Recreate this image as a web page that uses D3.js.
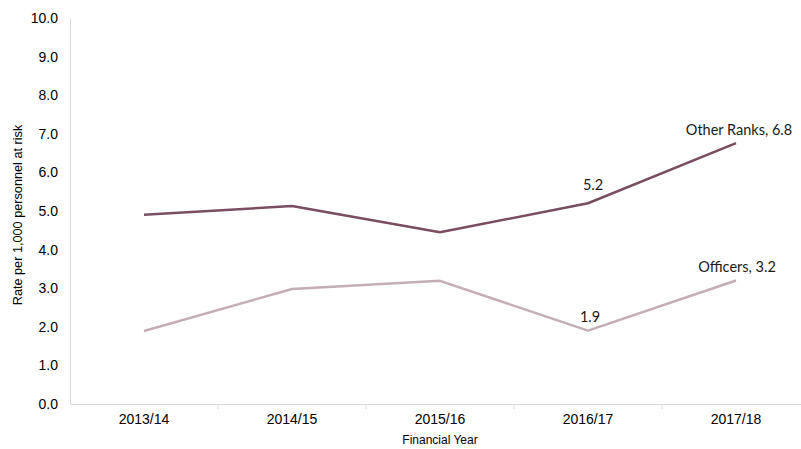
<!DOCTYPE html>
<html><head><meta charset="utf-8">
<script src="https://cdn.jsdelivr.net/npm/d3@7"></script>
<style>body{margin:0;background:#fff}svg{display:block}</style>
</head><body>
<svg id="c" width="801" height="449"></svg>
<script>
const years = ["2013/14","2014/15","2015/16","2016/17","2017/18"];
const otherRanks = [4.9, 5.13, 4.45, 5.2, 6.76];
const officers = [1.89, 2.98, 3.19, 1.9, 3.2];
const yTicks = [0,1,2,3,4,5,6,7,8,9,10];
const seriesNames = ["Other Ranks","Officers"];

const svg = d3.select("#c");
const m = {left:70, top:18};
const bandW = 148;
const x = d3.scaleBand().domain(years).range([m.left, m.left + bandW*years.length]);
const y = d3.scaleLinear().domain([0,10]).range([404, 18]);
const cx = d => x(d) + x.bandwidth()/2;

// y axis
const ya = svg.append("g").attr("transform",`translate(${m.left},0)`)
  .call(d3.axisLeft(y).tickValues(yTicks).tickFormat(d3.format(".1f")).tickSize(0).tickPadding(12));
ya.select(".domain").attr("stroke","#d9d9d9");
ya.selectAll("text").attr("font-family","Liberation Sans, Arial, sans-serif").attr("font-size",14).attr("fill","#000");

// x axis
const xa = svg.append("g").attr("transform",`translate(0,${y(0)})`)
  .call(d3.axisBottom(x).tickSize(0).tickPadding(10));
xa.select(".domain").attr("stroke","#d9d9d9");
xa.selectAll("text").attr("font-family","Liberation Sans, Arial, sans-serif").attr("font-size",14).attr("fill","#000");
// boundary ticks
svg.append("g").selectAll("line").data(years.slice(1)).join("line")
  .attr("x1",d=>x(d)).attr("x2",d=>x(d)).attr("y1",y(0)).attr("y2",y(0)+5)
  .attr("stroke","#d9d9d9");

// axis titles
svg.append("text").attr("x",440).attr("y",444).attr("text-anchor","middle")
  .attr("font-family","Liberation Sans, Arial, sans-serif").attr("font-size",12).attr("fill","#000")
  .text("Financial Year");
svg.append("text").attr("transform","translate(22,215) rotate(-90)").attr("text-anchor","middle")
  .attr("font-family","Liberation Sans, Arial, sans-serif").attr("font-size",12.7).attr("fill","#000")
  .text("Rate per 1,000 personnel at risk");

const line = d3.line().x((d,i)=>cx(years[i])).y(d=>y(d));
svg.append("path").datum(officers).attr("d",line).attr("fill","none")
  .attr("stroke","#c4adb4").attr("stroke-width",2.5).attr("stroke-linejoin","round");
svg.append("path").datum(otherRanks).attr("d",line).attr("fill","none")
  .attr("stroke","#7a4e61").attr("stroke-width",2.5).attr("stroke-linejoin","round");

const lab = (txt, xx, yy) => svg.append("text").attr("x",xx).attr("y",yy).attr("text-anchor","middle")
  .attr("font-family","Lato, Open Sans, sans-serif").attr("font-size",14.5).attr("fill","#1a1a1a").text(txt);
lab(`${seriesNames[0]}, ${otherRanks[4].toFixed(1)}`, cx(years[4])+3, y(otherRanks[4])-8);
lab(otherRanks[3].toFixed(1), cx(years[3])+5, y(otherRanks[3])-13);
lab(`${seriesNames[1]}, ${officers[4].toFixed(1)}`, cx(years[4])+1, y(officers[4])-8);
lab(officers[3].toFixed(1), cx(years[3])+2, y(officers[3])-9);
</script>
</body></html>
